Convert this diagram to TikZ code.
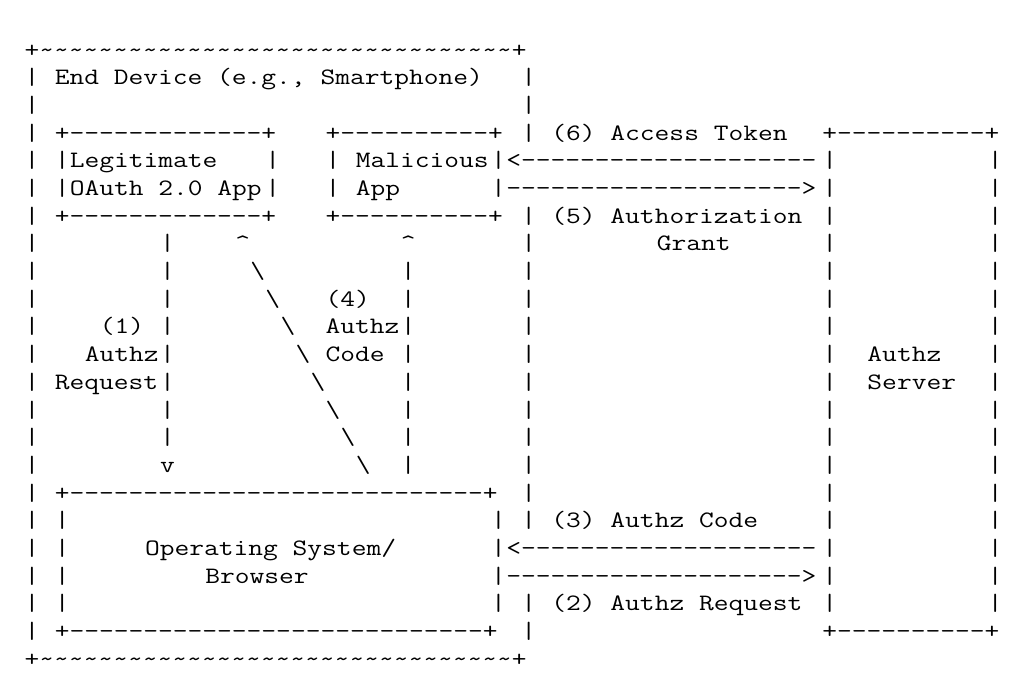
\documentclass[tikz,border=0pt]{standalone}
\usepackage{graphicx}

\newcommand\asciifont{\fontsize{23.5}{28}\selectfont\ttfamily\frenchspacing}
\newcommand\asc[1]{\scalebox{1.22}[1]{#1}}
\newcommand\asciirun[2]{\foreach\i in {1,...,#1}{#2\kern0pt}}

\tikzset{
  ascii/.style={inner sep=0pt, anchor=base west, font=\asciifont},
}

\begin{document}
\begin{tikzpicture}[x=15.05pt,y=-27.68pt]
\useasboundingbox (-2.126,-1.806) rectangle (65.914,23.12);

\begin{scope}[shift={(-0.5,0.26)}]
% end device
\node[ascii] (device-top) at (0,0) {\asc{+\asciirun{32}{\textasciitilde}+}};
\node[ascii] (device-bottom) at (0,22) {\asc{+\asciirun{32}{\textasciitilde}+}};
\foreach \r in {1,...,21}
\node[ascii] (device-left-\r) at (0,\r) {\asc{|}};
\foreach \r in {1,2,3,6,7,8,9,10,11,12,13,14,15,16,17,20,21}
\node[ascii] (device-right-\r) at (33,\r) {\asc{|}};
\node[ascii] (device) at (2,1) {\asc{End Device (e.g., Smartphone)}};

% legitimate app
\foreach \r in {3,6}
\node[ascii] (legit-edge-\r) at (2,\r) {\asc{+\asciirun{13}{-}+}};
\foreach \c in {2,16} \foreach \r in {4,5}
\node[ascii] (legit-side-\c-\r) at (\c,\r) {\asc{|}};
\node[ascii] (legit) at (3,4) {\asc{Legitimate}};
\node[ascii] (legit-2) at (3,5) {\asc{OAuth 2.0 App}};

% malicious app
\foreach \r in {3,6}
\node[ascii] (mal-edge-\r) at (20,\r) {\asc{+\asciirun{10}{-}+}};
\foreach \c in {20,31} \foreach \r in {4,5}
\node[ascii] (mal-side-\c-\r) at (\c,\r) {\asc{|}};
\node[ascii] (mal) at (22,4) {\asc{Malicious}};
\node[ascii] (mal-2) at (22,5) {\asc{App}};

% authz server
\foreach \r in {3,21}
\node[ascii] (server-edge-\r) at (53,\r) {\asc{+\asciirun{10}{-}+}};
\foreach \c in {53,64} \foreach \r in {4,...,20}
\node[ascii] (server-side-\c-\r) at (\c,\r) {\asc{|}};
\node[ascii] (server) at (56,11) {\asc{Authz}};
\node[ascii] (server-2) at (56,12) {\asc{Server}};

% operating system
\foreach \r in {16,21}
\node[ascii] (os-edge-\r) at (2,\r) {\asc{+\asciirun{28}{-}+}};
\foreach \c in {2,31} \foreach \r in {17,...,20}
\node[ascii] (os-side-\c-\r) at (\c,\r) {\asc{|}};
\node[ascii] (os) at (8,18) {\asc{Operating System/}};
\node[ascii] (os-2) at (12,19) {\asc{Browser}};

% (1) request, down
\foreach \r in {7,...,14}
\node[ascii] (req-\r) at (9,\r) {\asc{|}};
\node[ascii] (req-tip) at (9,15) {\asc{v}};
\node[ascii] (req-no) at (5,10) {\asc{(1)}};
\node[ascii] (req) at (4,11) {\asc{Authz}};
\node[ascii] (req-2) at (2,12) {\asc{Request}};

% back to the legitimate app
\node[ascii] (back-tip) at (14,7) {\asc{\textasciicircum}};
\foreach \r in {8,...,15}
\node[ascii] (back-\r) at ({\r+7},\r) {\asc{\textbackslash}};

% (4) code, up
\node[ascii] (code-tip) at (25,7) {\asc{\textasciicircum}};
\foreach \r in {8,...,15}
\node[ascii] (code-\r) at (25,\r) {\asc{|}};
\node[ascii] (code-no) at (20,9) {\asc{(4)}};
\node[ascii] (code) at (20,10) {\asc{Authz}};
\node[ascii] (code-2) at (20,11) {\asc{Code}};

% (6) and (5)
\node[ascii] (token-arrow) at (32,4) {\asc{<\asciirun{20}{-}}};
\node[ascii] (grant-arrow) at (32,5) {\asc{\asciirun{20}{-}>}};
\node[ascii] (token) at (35,3) {\asc{(6) Access Token}};
\node[ascii] (grant) at (35,6) {\asc{(5) Authorization}};
\node[ascii] (grant-2) at (42,7) {\asc{Grant}};

% (3) and (2)
\node[ascii] (authz-code-arrow) at (32,18) {\asc{<\asciirun{20}{-}}};
\node[ascii] (authz-req-arrow) at (32,19) {\asc{\asciirun{20}{-}>}};
\node[ascii] (authz-code) at (35,17) {\asc{(3) Authz Code}};
\node[ascii] (authz-req) at (35,20) {\asc{(2) Authz Request}};
\end{scope}

\end{tikzpicture}
\end{document}
